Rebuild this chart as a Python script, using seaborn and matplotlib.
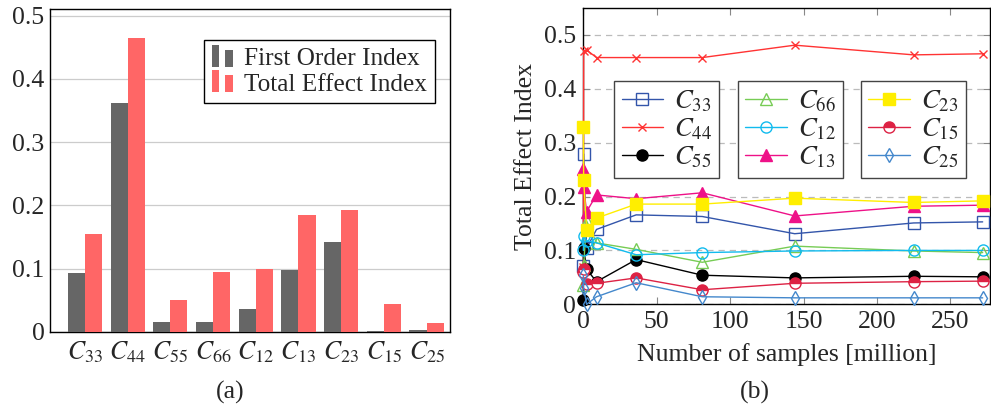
import numpy as np
import pandas as pd
import matplotlib
matplotlib.use("Agg")
import matplotlib.pyplot as plt
import seaborn as sns
from matplotlib.legend_handler import HandlerBase
from matplotlib.patches import Rectangle

# ---------------- data ----------------
params = ["$C_{33}$", "$C_{44}$", "$C_{55}$", "$C_{66}$", "$C_{12}$",
          "$C_{13}$", "$C_{23}$", "$C_{15}$", "$C_{25}$"]
first_order = [0.093, 0.362, 0.016, 0.016, 0.036, 0.098, 0.142, 0.002, 0.003]
total_effect = [0.155, 0.465, 0.051, 0.095, 0.100, 0.185, 0.193, 0.045, 0.014]

samples = [0.04, 0.25, 2.25, 9, 36, 81, 144, 225, 272]
c33 = [0.072, 0.279, 0.104, 0.139, 0.166, 0.163, 0.131, 0.151, 0.153]
c44 = [0.070, 0.470, 0.472, 0.458, 0.458, 0.458, 0.481, 0.463, 0.465]
c55 = [0.008, 0.104, 0.065, 0.042, 0.083, 0.054, 0.049, 0.052, 0.051]
c66 = [0.035, 0.073, 0.155, 0.114, 0.102, 0.078, 0.108, 0.099, 0.096]
c12 = [0.100, 0.127, 0.118, 0.114, 0.092, 0.096, 0.099, 0.100, 0.100]
c13 = [0.252, 0.217, 0.172, 0.203, 0.196, 0.207, 0.164, 0.182, 0.184]
c23 = [0.330, 0.231, 0.138, 0.160, 0.186, 0.186, 0.197, 0.189, 0.192]
c15 = [0.060, 0.065, 0.038, 0.039, 0.049, 0.027, 0.039, 0.042, 0.043]
c25 = [0.054, 0.030, 0.000, 0.014, 0.040, 0.014, 0.012, 0.012, 0.012]

yticks = [0, 0.1, 0.2, 0.3, 0.4, 0.5]
ytick_labels = ["0", "0.1", "0.2", "0.3", "0.4", "0.5"]
xticks_b = [0, 50, 100, 150, 200, 250]
xtick_labels_b = ["0", "50", "100", "150", "200", "250"]

# ---------------- style ----------------
sns.set_style("white")
plt.rcParams["font.family"] = ["Liberation Serif", "DejaVu Serif"]
plt.rcParams["mathtext.fontset"] = "stix"
FS = 18.5

fig = plt.figure(figsize=(9.91, 4.12), dpi=100)
W, H = 991, 412

# ---------------- panel (a) ----------------
ax1 = fig.add_axes([50 / W, (H - 332) / H, 400 / W, 323 / H])
df = pd.DataFrame({
    "param": params * 2,
    "value": first_order + total_effect,
    "index": ["First Order Index"] * len(params) + ["Total Effect Index"] * len(params),
})
gray, salmon = "#666666", "#ff6666"
sns.barplot(data=df, x="param", y="value", hue="index", palette=[gray, salmon],
            saturation=1, width=0.8, linewidth=0, ax=ax1, zorder=3)
ax1.set_xlim(-0.82, 8.55)
ax1.set_ylim(0, 0.5106)
ax1.set_yticks(yticks)
ax1.set_yticklabels(ytick_labels, fontsize=FS)
ax1.tick_params(axis="x", labelsize=FS, length=0, pad=5)
ax1.tick_params(axis="y", length=0, pad=4)
ax1.set_xlabel("")
ax1.set_ylabel("")
ax1.yaxis.grid(True, color="#cccccc", linewidth=0.9, zorder=0)
ax1.set_axisbelow(True)
for s in ax1.spines.values():
    s.set_color("black")
    s.set_linewidth(1.0)


class TwoBarHandler(HandlerBase):
    def create_artists(self, legend, orig_handle, xdescent, ydescent, width,
                       height, fontsize, trans):
        c = orig_handle.get_facecolor()
        w = width * 0.36
        r1 = Rectangle((-xdescent, -ydescent - 0.1 * height), w, height * 1.25,
                       facecolor=c, edgecolor="none", transform=trans)
        r2 = Rectangle((-xdescent + width * 0.64, -ydescent - 0.1 * height), w,
                       height * 0.95, facecolor=c, edgecolor="none", transform=trans)
        return [r1, r2]


ax1.get_legend().remove()
h_a = [Rectangle((0, 0), 1, 1, facecolor=gray), Rectangle((0, 0), 1, 1, facecolor=salmon)]
leg_a = ax1.legend(h_a, ["First Order Index", "Total Effect Index"],
                   handler_map={Rectangle: TwoBarHandler()},
                   loc="upper left", bbox_to_anchor=(0.385, 0.904), borderaxespad=0,
                   fontsize=FS - 0.3, frameon=True, fancybox=False, framealpha=1,
                   edgecolor="black", handlelength=0.85, handletextpad=0.45,
                   labelspacing=0.1, borderpad=0.3)
leg_a.get_frame().set_linewidth(1.0)

# ---------------- panel (b) ----------------
ax2 = fig.add_axes([583.3 / W, (H - 304.3) / H, 406.7 / W, 296.3 / H])

series = [
    ("$C_{33}$", c33, dict(color="#3355aa", marker="s", mfc="none", ms=8)),
    ("$C_{44}$", c44, dict(color="#ff3333", marker="x", ms=6)),
    ("$C_{55}$", c55, dict(color="black", marker="o", mfc="black", ms=8)),
    ("$C_{66}$", c66, dict(color="#77cc55", marker="^", mfc="none", ms=8)),
    ("$C_{12}$", c12, dict(color="#11bbee", marker="o", mfc="none", ms=8)),
    ("$C_{13}$", c13, dict(color="#ee1188", marker="^", mfc="#ee1188", ms=8)),
    ("$C_{23}$", c23, dict(color="#ffee00", marker="s", mfc="#ffee00", ms=9)),
    ("$C_{15}$", c15, dict(color="#dd2244", marker="o", mfc="#dd2244", ms=8,
                           fillstyle="top", markerfacecoloralt="white")),
    ("$C_{25}$", c25, dict(color="#4488cc", marker="d", mfc="none", ms=7.5)),
]
handles, labels = [], []
for name, vals, kw in series:
    n_before = len(ax2.lines)
    sns.lineplot(x=samples, y=vals, ax=ax2, estimator=None, sort=False,
                 linewidth=1.0, mew=1.0, mec=kw["color"], clip_on=False, zorder=4,
                 label="_nolegend_", **kw)
    handles.append(ax2.lines[n_before])
    labels.append(name)

ax2.set_xlim(0, 277)
ax2.set_ylim(0, 0.55)
ax2.set_yticks(yticks)
ax2.set_yticklabels(ytick_labels, fontsize=FS)
ax2.set_xticks(xticks_b)
ax2.set_xticklabels(xtick_labels_b, fontsize=FS)
ax2.tick_params(direction="in", length=5, width=0.8, color="#888888",
                top=True, right=True, bottom=True, left=True, pad=5)
ax2.yaxis.grid(True, color="#bbbbbb", linewidth=0.9, linestyle=(0, (5, 4)), zorder=0)
ax2.set_axisbelow(True)
for s in ax2.spines.values():
    s.set_color("black")
    s.set_linewidth(1.0)
ax2.set_xlabel("Number of samples [million]", fontsize=FS, labelpad=7)
ax2.set_ylabel("Total Effect Index", fontsize=FS, labelpad=5)

positions = [0.0755, 0.380, 0.6825]
for i, xpos in enumerate(positions):
    leg = ax2.legend(handles[3 * i:3 * i + 3], labels[3 * i:3 * i + 3],
                     loc="upper left", bbox_to_anchor=(xpos, 0.7536), borderaxespad=0,
                     fontsize=FS + 0.8, frameon=True, fancybox=False, framealpha=1,
                     edgecolor="#444444", handlelength=1.55, handletextpad=0.4,
                     labelspacing=0.1, borderpad=0.28)
    leg.get_frame().set_linewidth(1.0)
    leg.set_zorder(6)
    if i < 2:
        ax2.add_artist(leg)

# ---------------- captions ----------------
fig.text(230 / W, (H - 392) / H, "(a)", ha="center", va="center", fontsize=FS)
fig.text(755 / W, (H - 392) / H, "(b)", ha="center", va="center", fontsize=FS)

fig.savefig("out.png", dpi=100)
